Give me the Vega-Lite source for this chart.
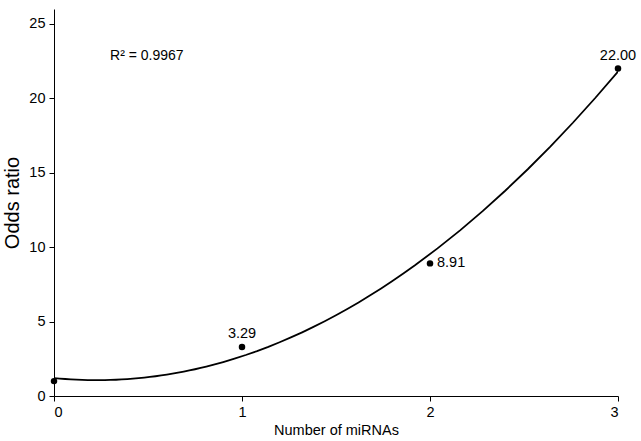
{
  "$schema": "https://vega.github.io/schema/vega-lite/v6.json",
  "width": 564,
  "height": 387,
  "autosize": "none",
  "padding": {"left": 54, "top": 9, "right": 23, "bottom": 45},
  "background": "white",
  "config": {
    "view": {"stroke": null},
    "font": "Liberation Sans",
    "axis": {
      "grid": false,
      "domainColor": "black",
      "tickColor": "black",
      "labelColor": "black",
      "titleColor": "black",
      "labelFont": "Liberation Sans",
      "titleFont": "Liberation Sans",
      "titleFontWeight": "normal",
      "labelFontSize": 14.5,
      "tickSize": 5
    }
  },
  "data": {
    "values": [
      {"miRNAs": 0, "odds": 1.0, "label": ""},
      {"miRNAs": 1, "odds": 3.29, "label": "3.29"},
      {"miRNAs": 2, "odds": 8.91, "label": "8.91"},
      {"miRNAs": 3, "odds": 22.0, "label": "22.00"}
    ]
  },
  "layer": [
    {
      "transform": [
        {"regression": "odds", "on": "miRNAs", "method": "poly", "order": 2, "extent": [0, 3]}
      ],
      "mark": {"type": "line", "color": "black", "strokeWidth": 1.8, "clip": true},
      "encoding": {
        "x": {"field": "miRNAs", "type": "quantitative", "scale": {"domain": [0, 3]},
          "axis": {"values": [0, 1, 2, 3], "format": "d", "title": "Number of miRNAs", "titleFontSize": 14.5, "titlePadding": 5, "labelPadding": 4}},
        "y": {"field": "odds", "type": "quantitative", "scale": {"domain": [0, 25]},
          "axis": {"values": [0, 5, 10, 15, 20, 25], "title": "Odds ratio", "titleFontSize": 20, "titlePadding": 6, "labelPadding": 4}}
      }
    },
    {
      "mark": {"type": "circle", "color": "black", "opacity": 1, "size": 42},
      "encoding": {
        "x": {"field": "miRNAs", "type": "quantitative"},
        "y": {"field": "odds", "type": "quantitative"}
      }
    },
    {
      "transform": [{"filter": "datum.miRNAs != 2"}],
      "mark": {"type": "text", "fontSize": 14.5, "dy": -13, "color": "black"},
      "encoding": {
        "x": {"field": "miRNAs", "type": "quantitative"},
        "y": {"field": "odds", "type": "quantitative"},
        "text": {"field": "label"}
      }
    },
    {
      "transform": [{"filter": "datum.miRNAs == 2"}],
      "mark": {"type": "text", "fontSize": 14.5, "dx": 7, "align": "left", "baseline": "middle", "color": "black"},
      "encoding": {
        "x": {"field": "miRNAs", "type": "quantitative"},
        "y": {"field": "odds", "type": "quantitative"},
        "text": {"field": "label"}
      }
    },
    {
      "data": {"values": [{"x": 0.298, "y": 22.87, "text": "R² = 0.9967"}]},
      "mark": {"type": "text", "fontSize": 14, "align": "left", "baseline": "middle", "color": "black"},
      "encoding": {
        "x": {"field": "x", "type": "quantitative"},
        "y": {"field": "y", "type": "quantitative"},
        "text": {"field": "text"}
      }
    }
  ]
}
